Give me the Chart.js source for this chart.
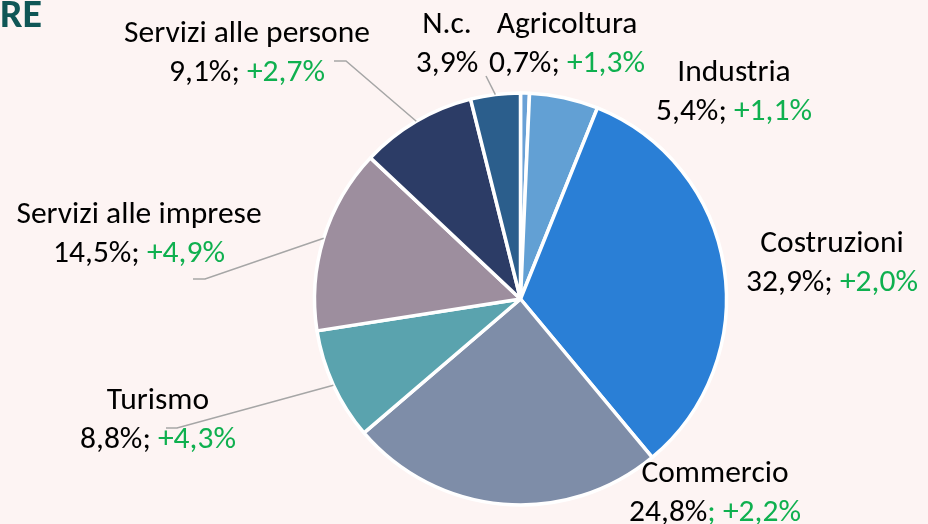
<!DOCTYPE html>
<html>
<head>
<meta charset="utf-8">
<script src="https://cdn.jsdelivr.net/npm/chart.js@4"></script>
<style>
  html, body { margin: 0; padding: 0; background: #FDF4F3; }
  #wrap { position: relative; width: 928px; height: 524px; overflow: hidden; }
  canvas { display: block; }
</style>
</head>
<body>
<div id="wrap"><canvas id="c" width="928" height="524"></canvas></div>
<script>
// ---- data ----
const categories = ['Agricoltura', 'Industria', 'Costruzioni', 'Commercio', 'Turismo',
                    'Servizi alle imprese', 'Servizi alle persone', 'N.c.'];
const shares = [0.7, 5.4, 32.9, 24.8, 8.8, 14.5, 9.1, 3.9];
const deltas = [1.3, 1.1, 2.0, 2.2, 4.3, 4.9, 2.7, null];
const title = 'RE';

// ---- style / layout ----
const colors = ['#6AA1D6', '#62A0D4', '#2A7FD6', '#7E8DA8', '#5AA3AE', '#9D8E9E', '#2C3C66', '#2B5E8C'];
// label anchor: [centerX, baseline of first line]
const labelPos = [[567, 33], [734, 81], [832, 252], [715, 482], [158, 409], [139, 223], [247, 42], [447, 33]];
// leader lines: label-side elbow points (null = no leader line)
const leaders = [null, null, null, null, [[166, 428], [177, 428]], [[193, 279], [205, 279]], [[334, 61], [346, 61]], [[486, 76]]];
// semicolon coloured green (as in the original for Commercio)
const greenSep = [false, false, false, true, false, false, false, false];

const FONT = '31.5px Carlito, Calibri, Lato, sans-serif';
const LINE = 39;
const GREEN = '#0FB04F';
const fmt = v => v.toFixed(1).replace('.', ',');

const labelPlugin = {
  id: 'labels',
  afterDatasetsDraw(chart) {
    const ctx = chart.ctx;
    const arcs = chart.getDatasetMeta(0).data;
    ctx.save();
    // leader lines
    ctx.strokeStyle = '#A6A6A6';
    ctx.lineWidth = 1.5;
    arcs.forEach((arc, i) => {
      const pts = leaders[i];
      if (!pts) return;
      const p = arc.getProps(['x', 'y', 'startAngle', 'endAngle', 'outerRadius'], true);
      const mid = (p.startAngle + p.endAngle) / 2;
      const ex = p.x + Math.cos(mid) * p.outerRadius;
      const ey = p.y + Math.sin(mid) * p.outerRadius;
      ctx.beginPath();
      ctx.moveTo(pts[0][0], pts[0][1]);
      for (let k = 1; k < pts.length; k++) ctx.lineTo(pts[k][0], pts[k][1]);
      ctx.lineTo(ex, ey);
      ctx.stroke();
    });
    // texts
    ctx.font = FONT;
    ctx.textBaseline = 'alphabetic';
    ctx.textAlign = 'left';
    categories.forEach((name, i) => {
      const [cx, by] = labelPos[i];
      ctx.fillStyle = '#000';
      const w1 = ctx.measureText(name).width;
      ctx.fillText(name, cx - w1 / 2, by);
      const segs = [];
      if (deltas[i] === null) {
        segs.push([fmt(shares[i]) + '%', '#000']);
      } else if (greenSep[i]) {
        segs.push([fmt(shares[i]) + '%', '#000']);
        segs.push(['; +' + fmt(deltas[i]) + '%', GREEN]);
      } else {
        segs.push([fmt(shares[i]) + '%; ', '#000']);
        segs.push(['+' + fmt(deltas[i]) + '%', GREEN]);
      }
      const tw = segs.reduce((s, g) => s + ctx.measureText(g[0]).width, 0);
      let x = cx - tw / 2;
      segs.forEach(([t, c]) => {
        ctx.fillStyle = c;
        ctx.fillText(t, x, by + LINE);
        x += ctx.measureText(t).width;
      });
    });
    // title
    ctx.font = 'bold 40px Carlito, Calibri, Lato, sans-serif';
    ctx.fillStyle = '#0F5656';
    ctx.fillText(title, 0, 27);
    ctx.restore();
  }
};

new Chart(document.getElementById('c'), {
  type: 'pie',
  data: {
    labels: categories,
    datasets: [{
      data: shares,
      backgroundColor: colors,
      borderColor: '#FFFFFF',
      borderWidth: 3.5,
      hoverOffset: 0,
      radius: 206
    }]
  },
  options: {
    responsive: false,
    animation: false,
    events: [],
    layout: { padding: { left: 113, top: 74, right: 0, bottom: 0 } },
    plugins: { legend: { display: false }, tooltip: { enabled: false } }
  },
  plugins: [labelPlugin]
});
</script>
</body>
</html>
